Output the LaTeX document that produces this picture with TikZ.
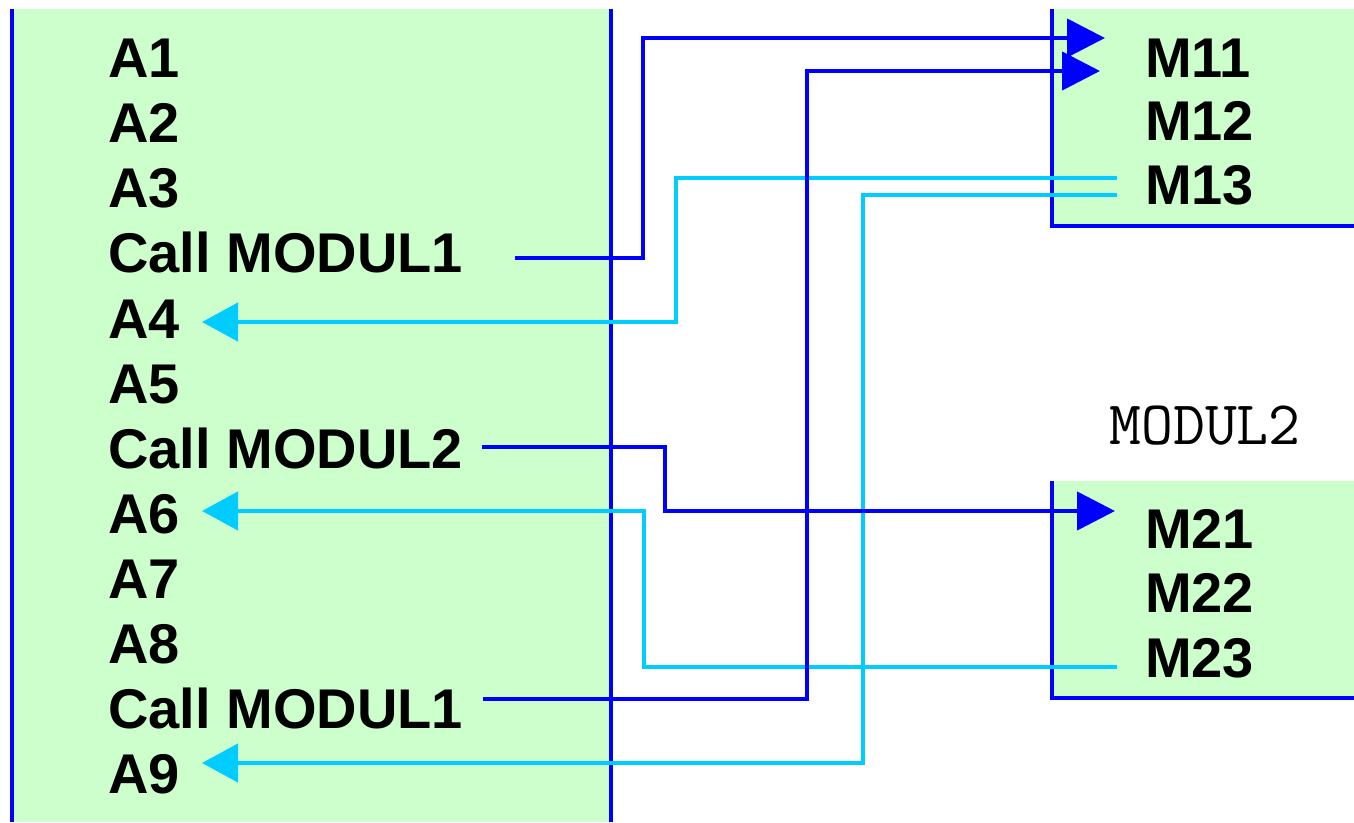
\documentclass[tikz,border=0pt]{standalone}
\usepackage{fontspec}
\usetikzlibrary{arrows.meta}
\newfontfamily\sansfam{Liberation Sans}
\definecolor{boxgreen}{HTML}{CCFFCC}
\definecolor{callblue}{HTML}{0000FF}
\definecolor{retcyan}{HTML}{00CCFF}
\tikzset{
  border/.style={draw=callblue, line width=4.5pt},
  item/.style={inner sep=0pt, anchor=base west, font=\sansfam\bfseries\fontsize{56}{60}\selectfont, text=black},
  callline/.style={draw=callblue, line width=4.5pt, -{Triangle[length=38pt,width=38pt]}},
  retline/.style={draw=retcyan, line width=4.5pt, -{Triangle[length=36pt,width=38pt]}},
  modlabel/.style={inner sep=0pt, anchor=base, font=\ttfamily\fontsize{62}{66}\selectfont, text=black}
}
\begin{document}
\begin{tikzpicture}[x=1pt,y=-1pt]
\useasboundingbox (0,0) rectangle (1354,822);
% boxes
\fill[boxgreen] (10,9) rectangle (612,822);
\fill[boxgreen] (1052,9) rectangle (1354,226);
\fill[boxgreen] (1052,481) rectangle (1354,698);
\draw[border] (12,9) -- (12,822);
\draw[border] (611,9) -- (611,822);
\draw[border] (1052,9) -- (1052,226) -- (1354,226);
\draw[border] (1052,481) -- (1052,698) -- (1354,698);
% left items
\node[item] (a1) at (108,77) {A1};
\node[item] (a2) at (108,142) {A2};
\node[item] (a3) at (108,207) {A3};
\node[item] (c1) at (108,272) {Call MODUL1};
\node[item] (a4) at (108,338) {A4};
\node[item] (a5) at (108,403) {A5};
\node[item] (c2) at (108,468) {Call MODUL2};
\node[item] (a6) at (108,533) {A6};
\node[item] (a7) at (108,598) {A7};
\node[item] (a8) at (108,663) {A8};
\node[item] (c3) at (108,728) {Call MODUL1};
\node[item] (a9) at (108,793) {A9};
% right items
\node[item] (m11) at (1145,77) {M11};
\node[item] (m12) at (1145,140) {M12};
\node[item] (m13) at (1145,204) {M13};
\node[modlabel] (mod2) at (1205,444) {MODUL2};
\node[item] (m21) at (1145,548) {M21};
\node[item] (m22) at (1145,612) {M22};
\node[item] (m23) at (1145,677) {M23};
% connector ends
\coordinate (s1) at (515,258);
\coordinate (t1) at (1105,38);
\coordinate (s3) at (483,699);
\coordinate (t3) at (1100,71);
\coordinate (s2) at (482,447);
\coordinate (t2) at (1115,511);
\coordinate (r13a) at (1117,178);
\coordinate (r13b) at (1117,195);
\coordinate (r23) at (1117,667);
\coordinate (ta4) at (202,322);
\coordinate (ta6) at (202,511);
\coordinate (ta9) at (202,763);
% returns
\draw[retline] (r13a) -- (676,178) |- (ta4);
\draw[retline] (r13b) -- (863,195) |- (ta9);
\draw[retline] (r23) -- (644,667) |- (ta6);
% calls
\draw[callline] (s1) -- (643,258) |- (t1);
\draw[callline] (s3) -- (807,699) |- (t3);
\draw[callline] (s2) -- (665,447) |- (t2);
\end{tikzpicture}
\end{document}
